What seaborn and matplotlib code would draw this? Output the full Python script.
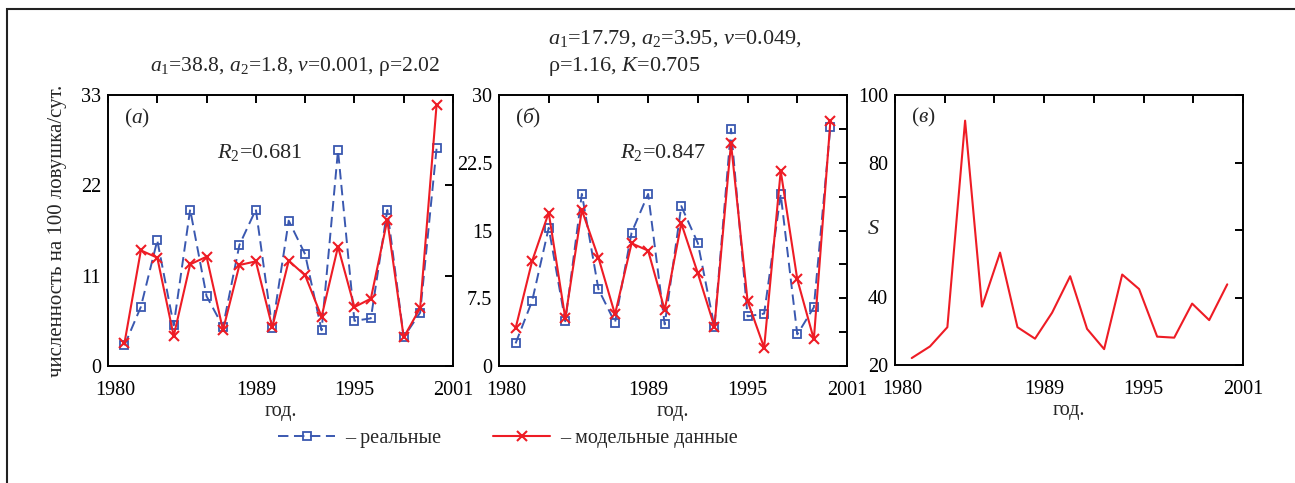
import numpy as np
import pandas as pd
import matplotlib
matplotlib.use("Agg")
import matplotlib.pyplot as plt
import seaborn as sns
from matplotlib.patches import Rectangle
from matplotlib.transforms import ScaledTranslation

# ---------------- data ----------------
years = [1981, 1982, 1983, 1984, 1985, 1986, 1987, 1988, 1989, 1990,
         1991, 1992, 1993, 1994, 1995, 1996, 1997, 1998, 1999, 2000]
real = [2.5, 7.2, 15.3, 4.95, 19.05, 8.5, 4.8, 14.75, 19.05, 4.6,
        17.7, 13.6, 4.35, 26.25, 5.5, 5.8, 19.0, 3.5, 6.5, 26.5]
model_a = [2.76, 14.08, 13.19, 3.65, 12.38, 13.31, 4.38, 12.3, 12.74, 4.71,
           12.82, 11.04, 6.0, 14.53, 7.18, 8.2, 17.78, 3.49, 7.06, 31.8]
model_b = [4.17, 11.62, 16.97, 5.28, 17.27, 11.99, 5.72, 13.58, 12.77, 6.2,
           15.79, 10.26, 4.35, 24.65, 7.2, 2.03, 21.59, 9.59, 2.95, 27.16]
s_years = [1981.01, 1982.11, 1983.16, 1984.23, 1985.25, 1986.34, 1987.39, 1988.45,
           1989.48, 1990.57, 1991.59, 1992.62, 1993.71, 1994.73, 1995.82, 1996.85,
           1997.93, 1998.96, 2000.05]
s_values = [22.06, 25.5, 31.2, 92.4, 37.3, 53.3, 31.2, 27.8, 35.5, 46.3,
            30.7, 24.7, 46.8, 42.5, 28.4, 28.1, 38.2, 33.3, 43.9]

x_ticks = [1980, 1983, 1986, 1989, 1992, 1995, 1998, 2001]
x_ticklabels = ["1980", "", "", "1989", "", "1995", "", "2001"]
ya_ticks = [0, 11, 22, 33]
ya_labels = ["0", "11", "22", "33"]
yb_ticks = [0, 3.75, 7.5, 11.25, 15, 18.75, 22.5, 26.25, 30]
yb_labels = ["0", "", "7.5", "", "15", "", "22.5", "", "30"]
yc_ticks = [20, 40, 60, 80, 100]
yc_labels = ["20", "40", "", "80", "100"]

df = pd.DataFrame({"year": years, "real": real, "model_a": model_a, "model_b": model_b})
dfs = pd.DataFrame({"year": s_years, "S": s_values})

# ---------------- style ----------------
sns.set_theme(style="white")
plt.rcParams["font.family"] = ["Liberation Serif", "DejaVu Serif"]
plt.rcParams["mathtext.fontset"] = "custom"
plt.rcParams["mathtext.rm"] = "Liberation Serif"
plt.rcParams["mathtext.it"] = "Liberation Serif:italic"
plt.rcParams["mathtext.bf"] = "Liberation Serif:bold"
plt.rcParams["lines.scale_dashes"] = False

FS = 14.5
FT = 16
BLUE = "#3a58b0"
RED = "#ee1c25"

W, H = 1295, 483
fig = plt.figure(figsize=(W / 100, H / 100), dpi=100)
fig.patch.set_facecolor("white")

def px_axes(x0, x1, y0, y1):
    return fig.add_axes([x0 / W, 1 - y1 / H, (x1 - x0) / W, (y1 - y0) / H])

ax_a = px_axes(108, 453, 95, 366)
ax_b = px_axes(499, 847, 95, 366)
ax_c = px_axes(895, 1243, 95, 365)

def style_axes(ax, yticks, ylabels, ylim):
    ax.set_xlim(1980, 2001)
    ax.set_ylim(*ylim)
    ax.set_xticks(x_ticks)
    ax.set_xticklabels(x_ticklabels)
    ax.set_yticks(yticks)
    ax.set_yticklabels(ylabels)
    ax.tick_params(axis="both", direction="in", length=6, width=1.4, colors="black",
                   labelsize=FS, top=True, right=True)
    ax.tick_params(axis="x", pad=11)
    ax.tick_params(axis="y", pad=5)
    for sp in ax.spines.values():
        sp.set_visible(True)
        sp.set_color("black")
        sp.set_linewidth(1.4)
    ax.grid(False)
    ax.set_xlabel("год.", fontsize=FS, labelpad=1)
    labs = ax.get_xticklabels()
    labs[0].set_transform(labs[0].get_transform() + ScaledTranslation(7 / 100, 0, fig.dpi_scale_trans))

def draw_pair(ax, ycol):
    sns.lineplot(data=df, x="year", y="real", ax=ax, color=BLUE, linewidth=1.4,
                 linestyle=(0, (7.5, 4)), marker="s", markersize=6,
                 markerfacecolor="none", markeredgecolor=BLUE, markeredgewidth=1.3,
                 label="– реальные", legend=False)
    sns.lineplot(data=df, x="year", y=ycol, ax=ax, color=RED, linewidth=1.5,
                 marker="x", markersize=7.5, markeredgecolor=RED, markeredgewidth=1.5,
                 label="– модельные данные", legend=False)

draw_pair(ax_a, "model_a")
draw_pair(ax_b, "model_b")
sns.lineplot(data=dfs, x="year", y="S", ax=ax_c, color=RED, linewidth=1.5, legend=False)

style_axes(ax_a, ya_ticks, ya_labels, (0, 33))
style_axes(ax_b, yb_ticks, yb_labels, (0, 30))
style_axes(ax_c, yc_ticks, yc_labels, (20, 100))

ax_a.set_ylabel("численность на 100 ловушка/сут.", fontsize=FS + 0.5, labelpad=10)
ax_b.set_ylabel("")
ax_c.set_ylabel("")
ax_c.text(-0.063, 0.5, "$S$", transform=ax_c.transAxes, ha="center", va="center", fontsize=FS + 1.5)

# panel letters
for ax, letter in ((ax_a, "а"), (ax_b, "б"), (ax_c, "в")):
    ax.text(0.045, 0.915, r"($\mathit{" + letter + r"}$)", transform=ax.transAxes,
            ha="left", va="center", fontsize=FS + 1)

# R2 annotations
ax_a.text(0.44, 0.786, r"$R_2$=0.681", transform=ax_a.transAxes, ha="center", va="center", fontsize=FT)
ax_b.text(0.471, 0.786, r"$R_2$=0.847", transform=ax_b.transAxes, ha="center", va="center", fontsize=FT)

# parameter titles
fig.text(295 / W, 1 - 67 / H, r"$a_1$=38.8, $a_2$=1.8, $v$=0.001, ρ=2.02",
         ha="center", va="center", fontsize=FT - 0.5)
fig.text(548 / W, 1 - 39 / H, r"$a_1$=17.79, $a_2$=3.95, $v$=0.049,",
         ha="left", va="center", fontsize=FT)
fig.text(548 / W, 1 - 67 / H, r"ρ=1.16, $K$=0.705",
         ha="left", va="center", fontsize=FT)

# legend
handles, labels = ax_a.get_legend_handles_labels()
fig.legend(handles, labels, loc="center", bbox_to_anchor=(508 / W, 1 - 438 / H),
           ncol=2, frameon=False, fontsize=FS, handlelength=2.8, handletextpad=0.5,
           columnspacing=2.6, numpoints=1)

# outer frame (only left and top visible)
fig.patches.append(Rectangle((7 / W, -0.5), 2.0, 1.5 - 9 / H, transform=fig.transFigure,
                             fill=False, edgecolor="#222222", linewidth=1.5, figure=fig))

fig.savefig("out.png", dpi=100)
